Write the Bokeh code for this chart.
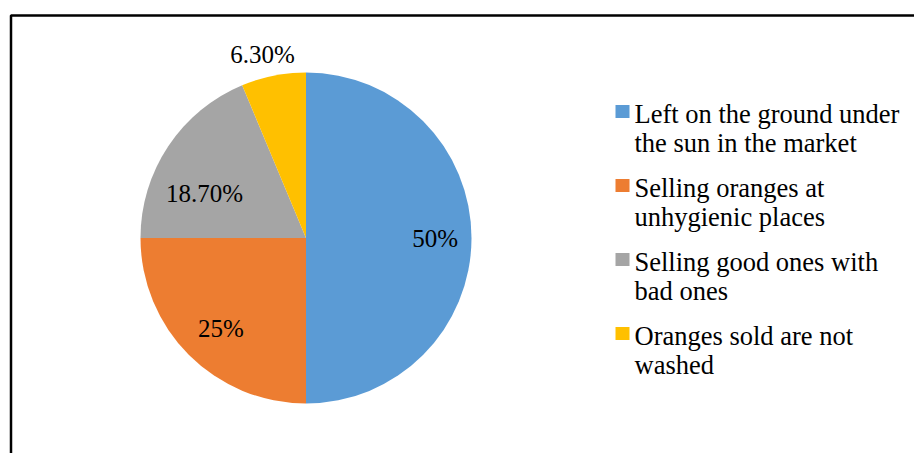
import math
from bokeh.plotting import figure
from bokeh.models import ColumnDataSource, Range1d, BoxAnnotation
from bokeh.core.properties import value
from bokeh.embed import file_html
from bokeh.resources import INLINE

# ---- data ----
categories = [
    "Left on the ground under\nthe sun in the market",
    "Selling oranges at\nunhygienic places",
    "Selling good ones with\nbad ones",
    "Oranges sold are not\nwashed",
]
values = [50.0, 25.0, 18.7, 6.3]
label_texts = ["50%", "25%", "18.70%", "6.30%"]
colors = ["#5B9BD5", "#ED7D31", "#A5A5A5", "#FFC000"]

# ---- layout (pixels, canvas 914x453, y measured up from bottom) ----
W, H = 914, 453
cx, cy, R = 305.5, H - 237.5, 165.5
label_r_frac = [0.78, 0.76, 0.665, 1.13]
label_angle_shift = [-1.3, 2.5, 10.7, 2.1]   # degrees, best-fit nudges
label_lift = 2
FONT = "Liberation Serif"

total = sum(values)
starts, ends, mids = [], [], []
acc = 0.0
for v in values:
    a0 = math.pi / 2 - 2 * math.pi * acc / total
    acc += v
    a1 = math.pi / 2 - 2 * math.pi * acc / total
    starts.append(a0)
    ends.append(a1)
    mids.append((a0 + a1) / 2)

lx, ly = [], []
for m, f, s in zip(mids, label_r_frac, label_angle_shift):
    a = m + math.radians(s)
    lx.append(cx + R * f * math.cos(a))
    ly.append(cy + R * f * math.sin(a) + label_lift)

pie_src = ColumnDataSource(dict(start=starts, end=ends, color=colors,
                                x=[cx] * len(values), y=[cy] * len(values)))
lab_src = ColumnDataSource(dict(x=lx, y=ly, text=label_texts))

p = figure(width=W, height=H, output_backend="svg", toolbar_location=None,
           x_range=Range1d(0, W), y_range=Range1d(0, H),
           x_axis_location=None, y_axis_location=None, min_border=0)
p.grid.visible = False
p.outline_line_color = None
p.background_fill_color = "white"
p.border_fill_color = "white"

p.wedge(x="x", y="y", radius=R, start_angle="start", end_angle="end",
        direction="clock", fill_color="color", line_color=None, source=pie_src)

p.text(x="x", y="y", text="text", source=lab_src, text_align="center",
       text_baseline="middle", text_font=value(FONT),
       text_font_size=value("25px"), text_color="black")

# legend
leg_sq_x, leg_sq_y0 = 622, H - 111
leg_txt_x, leg_txt_y0 = 634, H - 113
entry_gap, line_gap = 74, 29
sq_x, sq_y, tx, ty, tt = [], [], [], [], []
for i, (cat, col) in enumerate(zip(categories, colors)):
    sq_x.append(leg_sq_x)
    sq_y.append(leg_sq_y0 - i * entry_gap)
    for j, line in enumerate(cat.split("\n")):
        tx.append(leg_txt_x)
        ty.append(leg_txt_y0 - i * entry_gap - j * line_gap)
        tt.append(line)

p.rect(x=sq_x, y=sq_y, width=14, height=13, fill_color=colors, line_color=None)
p.text(x=tx, y=ty, text=tt, text_align="left", text_baseline="alphabetic",
       text_font=value(FONT), text_font_size=value("26.5px"), text_color="black")

# chart frame (extends past the window on the right and bottom)
p.add_layout(BoxAnnotation(left=10.5, right=W + 200, top=H - 15, bottom=-200,
                           fill_alpha=0, line_color="black", line_alpha=1.0,
                           line_width=2.5))

open("out.html", "w").write(file_html(p, INLINE))
